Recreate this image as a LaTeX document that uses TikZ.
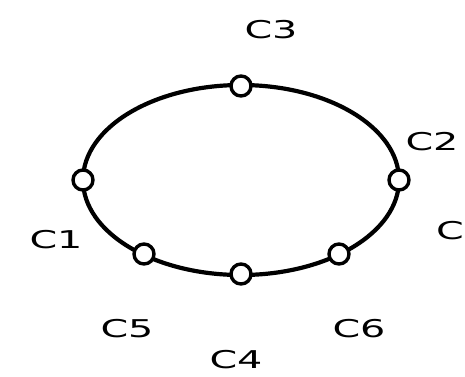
\documentclass[tikz,border=0pt]{standalone}
\usepackage{fontspec}
\setmainfont{DejaVu Sans}
\usepackage{tikz}
\tikzset{
  ring/.style={line width=4.2pt},
  port/.style={circle,draw,line width=3.4pt,fill=white,minimum size=20pt,inner sep=0pt},
  lbl/.style={font=\fontsize{24.5}{25}\selectfont,xscale=1.62,inner sep=0pt}
}

\begin{document}
\begin{tikzpicture}[x=1pt,y=-1pt]
  \useasboundingbox (0,0) rectangle (465,376);
  \coordinate (O) at (241,180);
  \draw[ring] (O) ellipse [x radius=158, y radius=95];
  % ports on the ring
  \node[port] (c1) at (83,180) {};
  \node[port] (c2) at (399,180) {};
  \node[port] (c3) at (241,86) {};
  \node[port] (c4) at (241,274) {};
  \node[port] (c5) at (144,254) {};
  \node[port] (c6) at (339,254) {};
  % labels
  \node[lbl] (t3) at (271,30) {C3};
  \node[lbl] (t2) at (432,142) {C2};
  \node[lbl] (t7) at (450,231) {C};
  \node[lbl] (t1) at (56,240) {C1};
  \node[lbl] (t5) at (127,329) {C5};
  \node[lbl] (t6) at (359,329) {C6};
  \node[lbl] (t4) at (236,360) {C4};
\end{tikzpicture}
\end{document}
